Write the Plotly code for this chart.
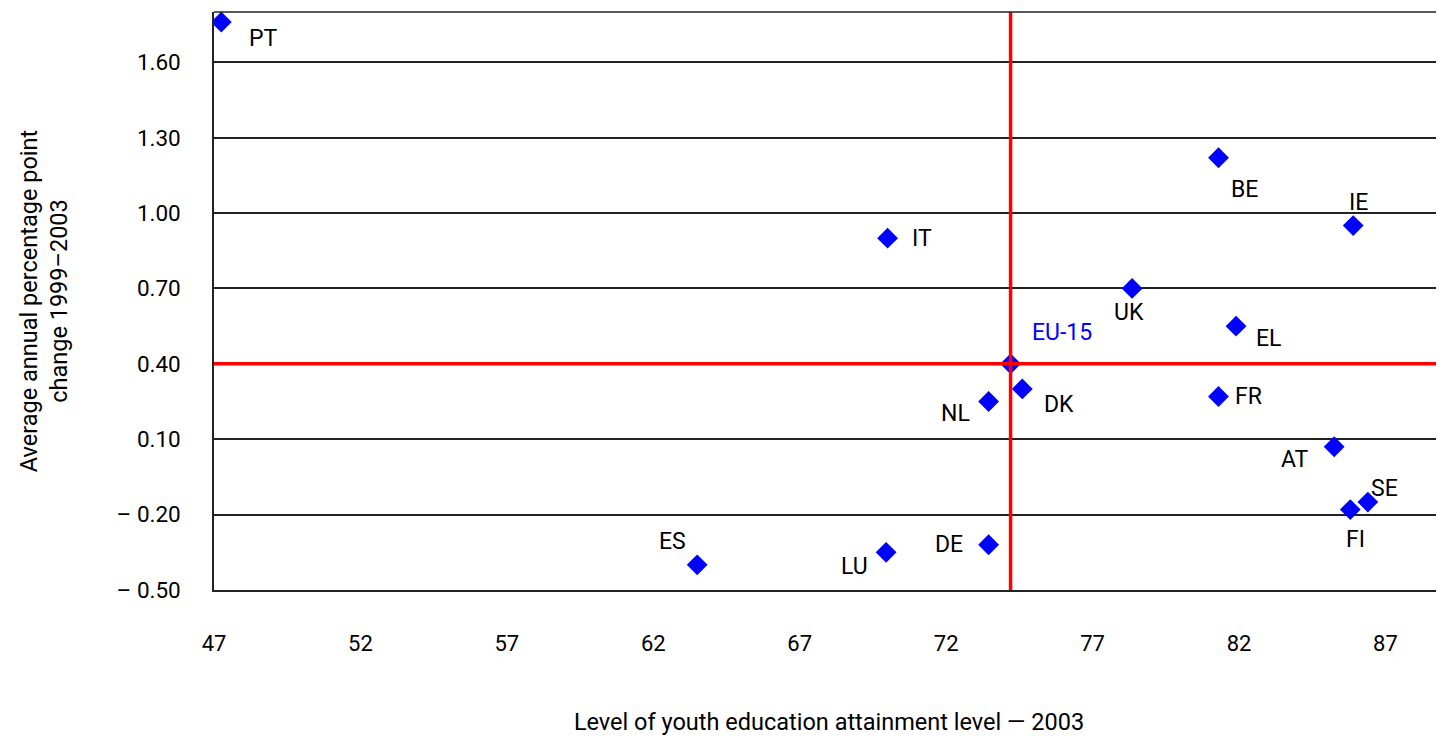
import plotly.graph_objects as go

countries = ["PT", "IT", "BE", "IE", "UK", "EL", "DK", "NL", "FR", "AT", "SE", "FI", "ES", "LU", "DE", "EU-15"]
attainment = [47.25, 70.0, 81.3, 85.9, 78.35, 81.9, 74.6, 73.45, 81.3, 85.25, 86.4, 85.8, 63.5, 69.95, 73.45, 74.2]
change = [1.76, 0.90, 1.22, 0.95, 0.70, 0.55, 0.30, 0.25, 0.27, 0.07, -0.15, -0.18, -0.40, -0.35, -0.32, 0.40]
# label offsets in pixels (dx, dy) from each marker
label_dx = [42, 34, 26, 5, -3, 32, 37, -33, 30, -39, 17, 5, -25, -32, -40, 51]
label_dy = [16, 0, 32, -23, 24, 12, 16, 12, 0, 13, -14, 30, -23, 14, 0, -31]

y_ticks = [-0.5, -0.2, 0.1, 0.4, 0.7, 1.0, 1.3, 1.6]
y_ticktext = [("– " if v < 0 else "") + f"{abs(v):.2f}" for v in y_ticks]
x_ticks = list(range(47, 88, 5))

eu_x = attainment[-1]
eu_y = change[-1]

FONT = "Roboto, sans-serif"

fig = go.Figure()
fig.add_trace(go.Scatter(
    x=attainment, y=change, mode="markers",
    marker=dict(symbol="diamond", size=16, color="#0000ff"),
    hoverinfo="text", text=countries, showlegend=False,
))

for c, x, y, dx, dy in zip(countries, attainment, change, label_dx, label_dy):
    fig.add_annotation(
        x=x, y=y, text=c, showarrow=True, arrowcolor="rgba(0,0,0,0)",
        ax=dx, ay=dy, xanchor="center", yanchor="middle",
        font=dict(size=23, color="#0000ff" if c == "EU-15" else "black"),
    )

# EU-15 reference lines
fig.add_shape(type="line", xref="x", yref="paper", x0=eu_x, x1=eu_x, y0=0, y1=1,
              line=dict(color="#ff0000", width=3.5))
fig.add_shape(type="line", xref="paper", yref="y", x0=0, x1=1, y0=eu_y, y1=eu_y,
              line=dict(color="#ff0000", width=3.5))
fig.add_shape(type="line", xref="paper", yref="paper", x0=0, x1=1, y0=1, y1=1,
              line=dict(color="#222", width=1.5))

fig.update_layout(
    width=1436, height=733,
    margin=dict(l=206, r=0, t=4, b=151),
    plot_bgcolor="white", paper_bgcolor="white",
    font=dict(family=FONT, size=22, color="black"),
    xaxis=dict(
        range=[47, 89], tickvals=x_ticks, showgrid=False, zeroline=False,
        showline=True, linecolor="#222", linewidth=1.5,
        ticks="outside", ticklen=0, ticklabelstandoff=33,
        title=dict(text="Level of youth education attainment level — 2003", standoff=58,
                   font=dict(size=23.5)),
    ),
    yaxis=dict(
        range=[-0.5, 1.8], tickvals=y_ticks, ticktext=y_ticktext,
        showgrid=True, gridcolor="#222", gridwidth=1.5, zeroline=False,
        showline=True, linecolor="#222", linewidth=1.5,
        ticks="outside", ticklen=0, ticklabelstandoff=27,
        tickfont=dict(size=22.5),
        title=dict(text="Average annual percentage point<br>change 1999–2003", standoff=42,
                   font=dict(size=23.5)),
    ),
)

fig.write_html("out.html")
